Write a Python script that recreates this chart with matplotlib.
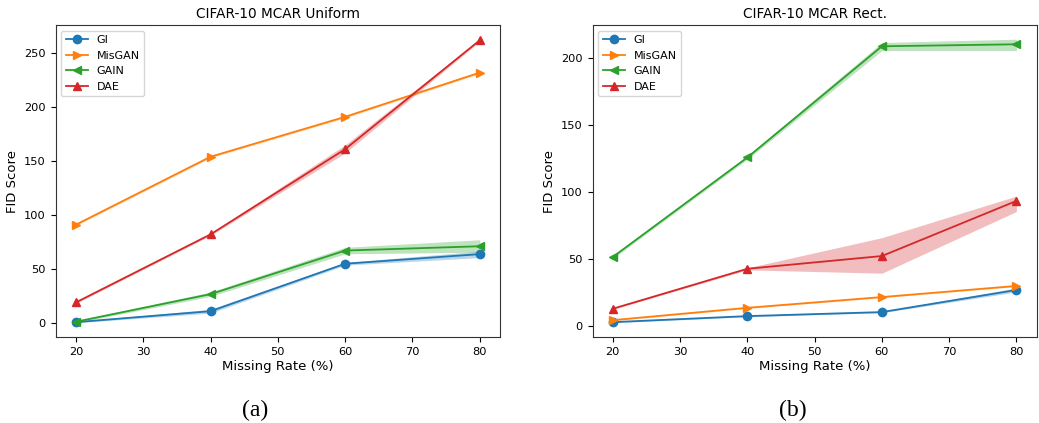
import numpy as np
import matplotlib
matplotlib.use("Agg")
import matplotlib.pyplot as plt

# ------------------------------------------
# data
# ------------------------------------------
rates = [20, 40, 60, 80]
methods = ["GI", "MisGAN", "GAIN", "DAE"]
markers = ["o", ">", "<", "^"]
colors = ["#1f77b4", "#ff7f0e", "#2ca02c", "#d62728"]

# (a) CIFAR-10 MCAR Uniform
uni_mean = {
    "GI":     [0.6, 10.8, 54.8, 63.7],
    "MisGAN": [91.0, 154.0, 191.0, 232.0],
    "GAIN":   [1.0, 26.6, 67.0, 71.0],
    "DAE":    [18.9, 82.0, 161.0, 262.0],
}
uni_low = {
    "GI":     [0.0, 9.0, 53.5, 60.5],
    "MisGAN": [90.0, 153.0, 190.0, 231.0],
    "GAIN":   [0.0, 24.5, 64.0, 65.5],
    "DAE":    [18.0, 81.0, 157.5, 261.0],
}
uni_high = {
    "GI":     [1.2, 12.5, 56.0, 66.5],
    "MisGAN": [92.0, 155.0, 192.0, 233.0],
    "GAIN":   [2.0, 28.5, 70.0, 77.0],
    "DAE":    [19.8, 83.0, 165.0, 263.0],
}

# (b) CIFAR-10 MCAR Rect.
rect_mean = {
    "GI":     [3.0, 7.5, 10.5, 27.0],
    "MisGAN": [4.5, 13.7, 21.7, 30.0],
    "GAIN":   [51.6, 125.8, 208.7, 210.2],
    "DAE":    [13.0, 42.8, 52.3, 93.4],
}
rect_low = {
    "GI":     [2.5, 7.0, 10.0, 25.5],
    "MisGAN": [4.0, 13.2, 21.2, 29.5],
    "GAIN":   [50.5, 124.5, 205.5, 205.5],
    "DAE":    [12.5, 42.0, 39.5, 85.5],
}
rect_high = {
    "GI":     [3.5, 8.0, 11.0, 28.5],
    "MisGAN": [5.0, 14.2, 22.2, 30.5],
    "GAIN":   [52.7, 127.0, 211.5, 214.0],
    "DAE":    [13.5, 43.5, 66.0, 97.0],
}

panels = [
    ("CIFAR-10 MCAR Uniform", uni_mean, uni_low, uni_high, "(a)"),
    ("CIFAR-10 MCAR Rect.", rect_mean, rect_low, rect_high, "(b)"),
]

fig = plt.figure(figsize=(10.39, 4.23), dpi=100)
ax_pos = [[0.0536, 0.2033, 0.4276, 0.7376],
          [0.5704, 0.2033, 0.4273, 0.7376]]
cap_x = [0.2454, 0.7630]

for k, (title, mean, low, high, cap) in enumerate(panels):
    ax = fig.add_axes(ax_pos[k])
    for m, mk, c in zip(methods, markers, colors):
        ax.plot(rates, mean[m], marker=mk, color=c, label=m,
                lw=1.3, markersize=6)
        ax.fill_between(rates, low[m], high[m], color=c, alpha=0.3, lw=0)
    ax.set_title(title, fontsize=9.8, pad=5)
    ax.set_xlabel("Missing Rate (%)", fontsize=9.5, labelpad=2)
    ax.set_ylabel("FID Score", fontsize=9.5)
    ax.set_xticks([20, 30, 40, 50, 60, 70, 80])
    ax.tick_params(labelsize=8.2)
    for s in ax.spines.values():
        s.set_color("#333333")
    ax.legend(loc="upper left", fontsize=8)
    fig.text(cap_x[k], 0.03, cap, ha="center", va="center",
             fontsize=17, family="Liberation Serif")

fig.savefig("out.png", dpi=100)
